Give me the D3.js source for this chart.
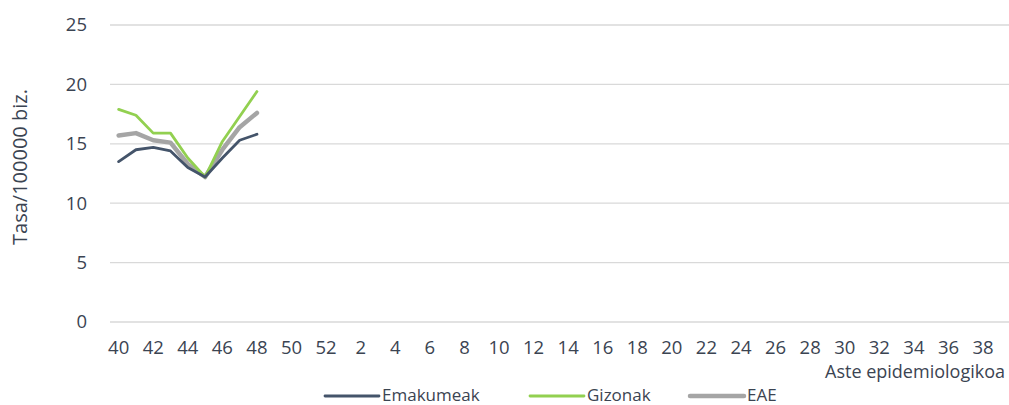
<!DOCTYPE html>
<html>
<head>
<meta charset="utf-8">
<script src="https://cdn.jsdelivr.net/npm/d3@7"></script>
<style>
  body { margin: 0; background: #fff; }
  text { font-family: "Open Sans", "Noto Sans", sans-serif; fill: #3b4452; }
</style>
</head>
<body>
<div id="chart"></div>
<script>
// weeks: 40..52 then 1..39
var weeks = d3.range(40, 53).concat(d3.range(1, 40));
var yTicks = [0, 5, 10, 15, 20, 25];

var emakumeak = [13.5, 14.5, 14.7, 14.4, 13.0, 12.2, 13.8, 15.3, 15.8];
var gizonak   = [17.9, 17.4, 15.9, 15.9, 13.8, 12.2, 15.2, 17.3, 19.4];
var eae       = [15.7, 15.9, 15.3, 15.1, 13.3, 12.2, 14.5, 16.4, 17.6];

var seriesNames = ["Emakumeak", "Gizonak", "EAE"];

var svgWidth = 1009;
var svgHeight = 405;
var margin = { top: 25, right: 0, bottom: 83, left: 110 };
var width = svgWidth - margin.left - margin.right;
var height = svgHeight - margin.top - margin.bottom;

var svg = d3.select("#chart")
  .append("svg")
  .attr("width", svgWidth)
  .attr("height", svgHeight);

var chartGroup = svg.append("g")
  .attr("transform", `translate(${margin.left}, ${margin.top})`);

var xScale = d3.scaleBand()
  .domain(weeks)
  .range([0, width]);

var yScale = d3.scaleLinear()
  .domain([0, 25])
  .range([height, 0]);

// gridlines
chartGroup.selectAll(".grid")
  .data(yTicks)
  .enter()
  .append("line")
  .attr("x1", 0)
  .attr("x2", width)
  .attr("y1", d => yScale(d))
  .attr("y2", d => yScale(d))
  .attr("stroke", "#d9d9d9")
  .attr("stroke-width", 1.3);

// y axis labels
var yAxis = d3.axisLeft(yScale).tickValues(yTicks).tickSize(0).tickPadding(23);
chartGroup.append("g")
  .call(yAxis)
  .call(g => g.select(".domain").remove())
  .selectAll("text")
  .attr("font-size", "18.5px")
  .attr("font-family", "'Open Sans', sans-serif")
  .attr("fill", "#3b4452");

// x axis labels (every other week)
var xAxis = d3.axisBottom(xScale)
  .tickValues(weeks.filter((w, i) => i % 2 === 0))
  .tickSize(0)
  .tickPadding(19);
chartGroup.append("g")
  .attr("transform", `translate(0, ${height})`)
  .call(xAxis)
  .call(g => g.select(".domain").remove())
  .selectAll("text")
  .attr("font-size", "18.5px")
  .attr("font-family", "'Open Sans', sans-serif")
  .attr("fill", "#3b4452");

// lines
var colors = { "Emakumeak": "#44546a", "Gizonak": "#92d050", "EAE": "#a5a5a5" };
var widths = { "Emakumeak": 2.8, "Gizonak": 2.8, "EAE": 4.5 };
var seriesData = { "Emakumeak": emakumeak, "Gizonak": gizonak, "EAE": eae };

var line = d3.line()
  .x((d, i) => xScale(weeks[i]) + xScale.bandwidth() / 2)
  .y(d => yScale(d));

["EAE", "Gizonak", "Emakumeak"].forEach(function (name) {
  chartGroup.append("path")
    .datum(seriesData[name])
    .attr("fill", "none")
    .attr("stroke", colors[name])
    .attr("stroke-width", widths[name])
    .attr("stroke-linejoin", "round")
    .attr("stroke-linecap", "round")
    .attr("d", line);
});

// y label
svg.append("text")
  .attr("transform", "translate(27, 167) rotate(-90)")
  .attr("text-anchor", "middle")
  .attr("font-size", "20px")
  .text("Tasa/100000 biz.");

// x label
svg.append("text")
  .attr("x", 1005)
  .attr("y", 378)
  .attr("text-anchor", "end")
  .attr("font-size", "18px")
  .text("Aste epidemiologikoa");

// legend
var legendX = [325, 530, 690];
var legend = svg.selectAll(".legend")
  .data(seriesNames)
  .enter()
  .append("g")
  .attr("transform", (d, i) => `translate(${legendX[i]}, 396)`);

legend.append("line")
  .attr("x1", 0)
  .attr("x2", 54)
  .attr("y1", 0)
  .attr("y2", 0)
  .attr("stroke", d => colors[d])
  .attr("stroke-width", d => widths[d])
  .attr("stroke-linecap", "round");

legend.append("text")
  .attr("x", 57)
  .attr("y", 5)
  .attr("font-size", "17px")
  .text(d => d);
</script>
</body>
</html>
